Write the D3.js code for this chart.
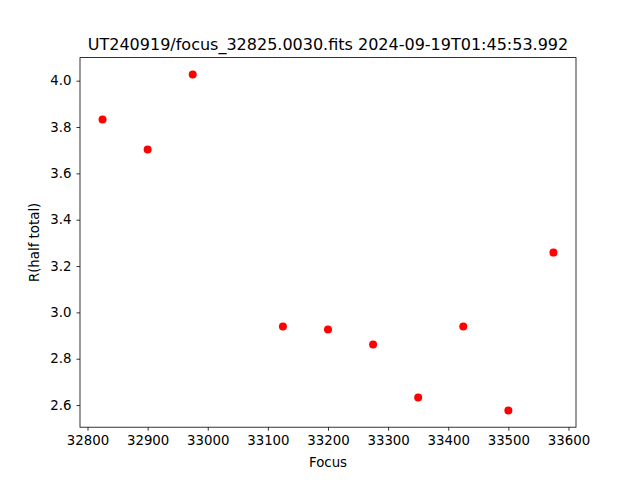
<!DOCTYPE html>
<html>
<head>
<meta charset="utf-8">
<script src="https://cdn.jsdelivr.net/npm/d3@7"></script>
<style>
  body { margin: 0; background: #fff; }
  svg text { font-family: "DejaVu Sans", sans-serif; fill: #000; }
</style>
</head>
<body>
<div id="chart-area"></div>
<script>
// chart data
let focus = [32825, 32900, 32975, 33125, 33200, 33275, 33350, 33425, 33500, 33575];
let rHalf = [3.832, 3.703, 4.027, 2.939, 2.926, 2.861, 2.633, 2.939, 2.577, 3.258];
let xTicks = [32800, 32900, 33000, 33100, 33200, 33300, 33400, 33500, 33600];
let yTicks = [2.6, 2.8, 3.0, 3.2, 3.4, 3.6, 3.8, 4.0];
let title = "UT240919/focus_32825.0030.fits 2024-09-19T01:45:53.992";

var width = 640,
	height = 480;
let margin = {top: 57.6, bottom: 52.8, left: 80, right: 64};

let svg = d3.select('#chart-area').append('svg')
	.attr('width', width)
	.attr('height', height);

// matplotlib style 5% padding
let xMin = d3.min(focus), xMax = d3.max(focus);
let yMin = d3.min(rHalf), yMax = d3.max(rHalf);
let xPad = (xMax - xMin) * 0.05, yPad = (yMax - yMin) * 0.05;

let xScale = d3.scaleLinear()
	.domain([xMin - xPad, xMax + xPad])
	.range([margin.left, width - margin.right]);

let yScale = d3.scaleLinear()
	.domain([yMin - yPad, yMax + yPad])
	.range([height - margin.bottom, margin.top]);

let xaxis = d3.axisBottom(xScale)
	.tickValues(xTicks)
	.tickFormat(d3.format("d"))
	.tickSize(3.5)
	.tickPadding(5);

let yaxis = d3.axisLeft(yScale)
	.tickValues(yTicks)
	.tickFormat(d3.format(".1f"))
	.tickSize(3.5)
	.tickPadding(5);

let gx = svg.append('g')
	.attr("transform", "translate(0," + (height - margin.bottom) + ")")
	.call(xaxis);

let gy = svg.append('g')
	.attr("transform", "translate(" + margin.left + ",0)")
	.call(yaxis);

[gx, gy].forEach(g => {
	g.select('.domain').remove();
	g.selectAll('line').attr('stroke', '#000').attr('stroke-width', 0.8);
	g.selectAll('text').attr('font-size', '13.33px').attr('font-family', '"DejaVu Sans", sans-serif');
});

// frame
svg.append('rect')
	.attr('x', margin.left)
	.attr('y', margin.top)
	.attr('width', width - margin.left - margin.right)
	.attr('height', height - margin.top - margin.bottom)
	.attr('fill', 'none')
	.attr('stroke', '#000')
	.attr('stroke-width', 0.8);

svg.selectAll("circle")
	.data(focus)
	.enter()
	.append("circle")
	.attr("fill", "#ff0000")
	.attr("r", 4)
	.attr("cx", d => xScale(d))
	.attr("cy", (d, i) => yScale(rHalf[i]));

svg.append('text')
	.attr("x", (margin.left + width - margin.right) / 2)
	.attr("y", margin.top - 8)
	.attr("text-anchor", "middle")
	.attr("font-size", "16px")
	.text(title);

svg.append('text')
	.attr("x", (margin.left + width - margin.right) / 2)
	.attr("y", 467)
	.attr("text-anchor", "middle")
	.attr("font-size", "13.33px")
	.text("Focus");

svg.append('text')
	.attr("transform", "rotate(-90)")
	.attr("x", -(margin.top + height - margin.bottom) / 2)
	.attr("y", 39)
	.attr("text-anchor", "middle")
	.attr("font-size", "13.33px")
	.text("R(half total)");
</script>
</body>
</html>
